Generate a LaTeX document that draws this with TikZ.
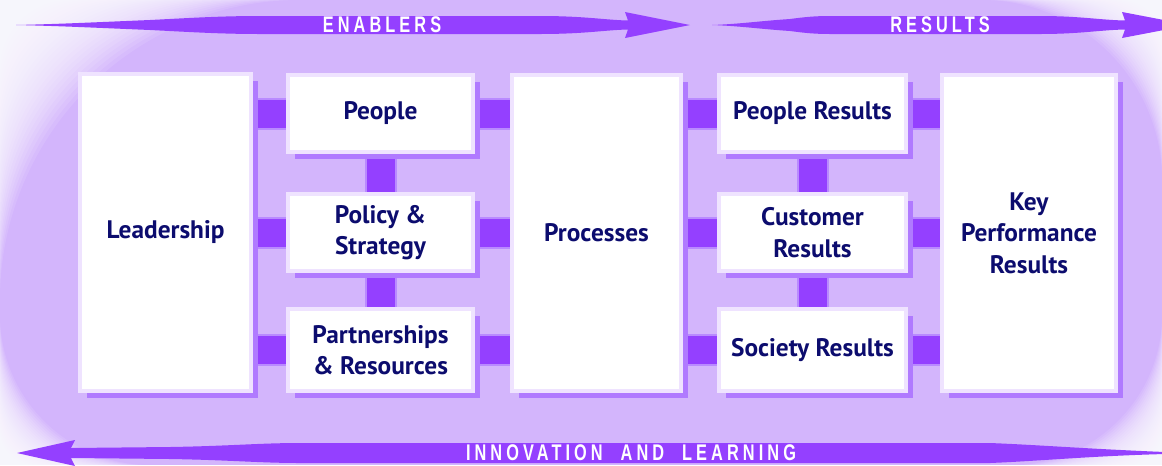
\documentclass[tikz,border=0pt]{standalone}
\usepackage{fontspec}
\setmainfont{PT Sans}
\newfontfamily\boxfont{PT Sans}[FakeStretch=1.0]
\newfontfamily\arrfont{Liberation Sans}[FakeStretch=0.72,LetterSpace=18]
\definecolor{lav}{HTML}{D3B5FC}
\definecolor{vio}{HTML}{9440FF}
\definecolor{lightb}{HTML}{EFE3FF}
\definecolor{darkb}{HTML}{B07AFF}
\definecolor{halo}{HTML}{B98AFF}
\definecolor{navy}{HTML}{0C0C6E}
\pgfdeclarelayer{bg}
\pgfdeclarelayer{conn}
\pgfdeclarelayer{shad}
\pgfsetlayers{bg,conn,shad,main}
\begin{document}
\begin{tikzpicture}[x=0.75pt,y=-0.75pt,
  box/.style n args={2}{fill=white, draw=lightb, line width=3pt, inner sep=0pt, outer sep=0pt,
    minimum width=#1*0.75pt, minimum height=#2*0.75pt, align=center, text=navy,
    font=\boxfont\bfseries\fontsize{19}{23.5}\selectfont},
  shadowbox/.style={fill=darkb},
  conn/.style={draw=vio, line width=21pt, preaction={draw=halo, line width=24pt}},
  arrow/.style={fill=vio},
  arrlabel/.style={text=white, inner sep=0pt, font=\arrfont\bfseries\fontsize{17}{17}\selectfont},
  fade/.style={fill=white, fill opacity=0.1}
]
\useasboundingbox (0,0) rectangle (1162,465);
\begin{pgfonlayer}{bg}
\fill[lav] (0,0) rectangle (1162,465);
\foreach \R in {10,20,...,300}
  \fill[fade] (0,0) -- (\R,0) .. controls ({0.448*\R},0) and (0,{0.448*\R}) .. (0,\R) -- cycle;
\begin{scope}[shift={(1162,0)}, xscale=-1]
\foreach \R in {6,12,...,180}
  \fill[fade] (0,0) -- (\R,0) .. controls ({0.448*\R},0) and (0,{0.448*\R}) .. (0,\R) -- cycle;
\end{scope}
\begin{scope}[shift={(0,465)}, yscale=-1]
\foreach \R in {5,10,...,150}
  \fill[fade] (0,0) -- (\R,0) .. controls ({0.448*\R},0) and (0,{0.448*\R}) .. (0,\R) -- cycle;
\end{scope}
\begin{scope}[shift={(1162,465)}, xscale=-1, yscale=-1]
\foreach \R in {5,10,...,150}
  \fill[fade] (0,0) -- (\R,0) .. controls ({0.448*\R},0) and (0,{0.448*\R}) .. (0,\R) -- cycle;
\end{scope}
\end{pgfonlayer}

\begin{scope}
\clip (0,0) rectangle (1162,465);
\fill[arrow] (16,25) .. controls (60,24) and (90,22.5) .. (150,20) .. controls (190,18) and (220,16) .. (260,16)
  -- (540,16) .. controls (585,16) and (605,20) .. (628,20.5) -- (625,12) -- (690,25) -- (625,38) -- (628,29.5)
  .. controls (605,30) and (585,34) .. (540,34) -- (260,34) .. controls (220,34) and (190,32) .. (150,30)
  .. controls (90,27.5) and (60,26) .. (16,25) -- cycle;
\fill[arrow] (712,25) .. controls (740,24) and (760,21) .. (790,19) .. controls (805,17) and (815,16) .. (830,16)
  -- (1040,16) .. controls (1080,16) and (1100,20) .. (1125,20.5) -- (1122,12) -- (1190,25) -- (1122,38) -- (1125,29.5)
  .. controls (1100,30) and (1080,34) .. (1040,34) -- (830,34) .. controls (815,34) and (805,33) .. (790,31)
  .. controls (760,29) and (740,26) .. (712,25) -- cycle;
\fill[arrow] (17,453) -- (75,440) -- (71,448) -- (170,447) .. controls (230,446) and (260,443) .. (300,443)
  -- (990,443) .. controls (1040,445) and (1090,449) .. (1165,452) -- (1165,454)
  .. controls (1090,456) and (1040,461) .. (990,463) -- (300,463) .. controls (260,463) and (230,460) .. (170,459)
  -- (71,458) -- (75,466) -- cycle;
\end{scope}
\node[arrlabel] (enablers) at (382,25) {ENABLERS};
\node[arrlabel] (results) at (940,25) {RESULTS};
\node[arrlabel] (innov) at (631,453) {INNOVATION\hspace{7pt} AND\hspace{7pt} LEARNING};

% boxes
\node[box={171}{317}] (lead) at (165.5,232.5) {Leadership};
\node[box={185}{77}] (people) at (380.5,113.5) {People};
\node[box={185}{77}] (policy) at (380.5,232.5) {Policy \&\\Strategy};
\node[box={185}{82}] (partner) at (380.5,350) {Partnerships\\\& Resources};
\node[box={169}{316}] (proc) at (596.5,233) {Processes};
\node[box={187}{77}] (pres) at (812.5,113.5) {People Results};
\node[box={187}{77}] (cres) at (812.5,232.5) {Customer\\Results};
\node[box={187}{82}] (sres) at (812.5,350) {Society Results};
\node[box={174}{316}] (kpr) at (1029,233) {Key\\Performance\\Results};

\begin{pgfonlayer}{shad}
\fill[shadowbox] ([shift={(7,7)}]lead.north west) rectangle ([shift={(7,7)}]lead.south east);
\fill[shadowbox] ([shift={(7,7)}]people.north west) rectangle ([shift={(7,7)}]people.south east);
\fill[shadowbox] ([shift={(7,7)}]policy.north west) rectangle ([shift={(7,7)}]policy.south east);
\fill[shadowbox] ([shift={(7,7)}]partner.north west) rectangle ([shift={(7,7)}]partner.south east);
\fill[shadowbox] ([shift={(7,7)}]proc.north west) rectangle ([shift={(7,7)}]proc.south east);
\fill[shadowbox] ([shift={(7,7)}]pres.north west) rectangle ([shift={(7,7)}]pres.south east);
\fill[shadowbox] ([shift={(7,7)}]cres.north west) rectangle ([shift={(7,7)}]cres.south east);
\fill[shadowbox] ([shift={(7,7)}]sres.north west) rectangle ([shift={(7,7)}]sres.south east);
\fill[shadowbox] ([shift={(7,7)}]kpr.north west) rectangle ([shift={(7,7)}]kpr.south east);
\end{pgfonlayer}

\begin{pgfonlayer}{conn}
\draw[conn] (lead.east |- people.center) -- (people.west);
\draw[conn] (lead.east |- policy.center) -- (policy.west);
\draw[conn] (lead.east |- partner.center) -- (partner.west);
\draw[conn] (people.east) -- (proc.west |- people.center);
\draw[conn] (policy.east) -- (proc.west |- policy.center);
\draw[conn] (partner.east) -- (proc.west |- partner.center);
\draw[conn] (people.south) -- (policy.north);
\draw[conn] (policy.south) -- (partner.north);
\draw[conn] (proc.east |- pres.center) -- (pres.west);
\draw[conn] (proc.east |- cres.center) -- (cres.west);
\draw[conn] (proc.east |- sres.center) -- (sres.west);
\draw[conn] (pres.east) -- (kpr.west |- pres.center);
\draw[conn] (cres.east) -- (kpr.west |- cres.center);
\draw[conn] (sres.east) -- (kpr.west |- sres.center);
\draw[conn] (pres.south) -- (cres.north);
\draw[conn] (cres.south) -- (sres.north);
\end{pgfonlayer}
\end{tikzpicture}
\end{document}
